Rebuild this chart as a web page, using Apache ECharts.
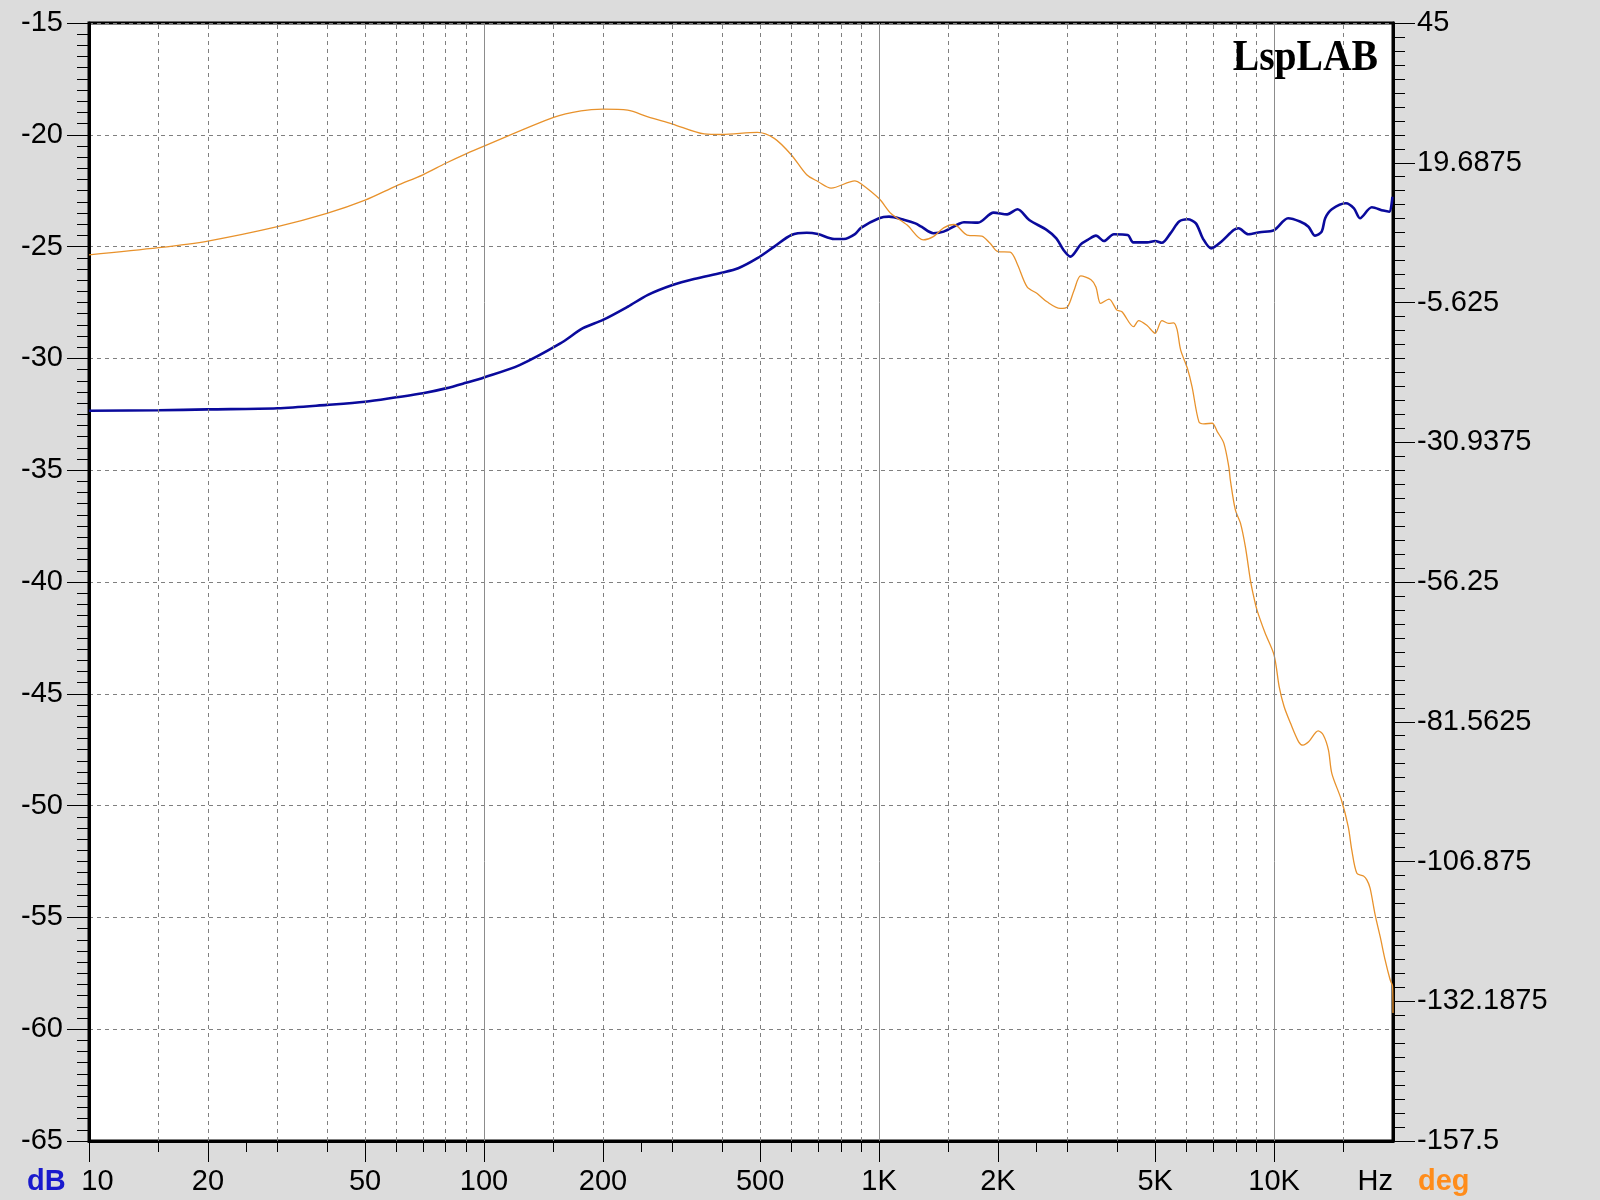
<!DOCTYPE html>
<html>
<head>
<meta charset="utf-8">
<script src="https://cdn.jsdelivr.net/npm/echarts@6/dist/echarts.min.js"></script>
<style>
html,body{margin:0;padding:0;background:#dcdcdc;}
#chart{width:1600px;height:1200px;}
</style>
</head>
<body>
<div id="chart"></div>
<script>
// ---- data ----
const magFreq = [10,15,20,30,40,50,60,70,80,90,100,123,156,178,200,231,260,300,340,400,440,492,543,600,656,700,770,815,869,900,1000,1060,1160,1236,1280,1372,1457,1590,1640,1780,1950,2110,2240,2400,2660,2810,2930,3050,3240,3375,3540,3710,3930,4260,4400,4770,5000,5200,5470,5750,6040,6340,6600,6930,7350,7900,8130,8600,9200,10000,10850,11630,12220,12700,13200,13470,14000,15200,15930,16500,17680,18900,19570,19930];
const magDb = [-32.34,-32.32,-32.28,-32.23,-32.08,-31.94,-31.74,-31.56,-31.34,-31.09,-30.85,-30.30,-29.33,-28.65,-28.28,-27.69,-27.16,-26.72,-26.45,-26.17,-25.97,-25.52,-25.0,-24.48,-24.38,-24.44,-24.66,-24.66,-24.44,-24.16,-23.73,-23.66,-23.81,-23.96,-24.11,-24.40,-24.33,-23.99,-23.91,-23.93,-23.48,-23.56,-23.33,-23.81,-24.26,-24.63,-25.15,-25.45,-24.90,-24.70,-24.51,-24.75,-24.45,-24.48,-24.81,-24.81,-24.75,-24.83,-24.40,-23.88,-23.78,-23.96,-24.63,-25.08,-24.78,-24.26,-24.18,-24.45,-24.36,-24.26,-23.73,-23.88,-24.11,-24.51,-24.33,-23.73,-23.33,-23.06,-23.29,-23.73,-23.24,-23.39,-23.44,-22.77];

const phaseFreq = [10,15,20,30,40,50,60,70,80,90,100,150,176,200,231,260,300,361,400,492,543,600,656,700,756,869,900,1000,1072,1178,1293,1372,1457,1547,1671,1820,1910,2000,2148,2234,2370,2513,2662,2873,3000,3117,3240,3440,3540,3640,3820,4000,4120,4410,4540,4770,5000,5200,5410,5570,5680,5800,6030,6200,6450,6640,6970,7180,7460,7680,7750,7980,8220,8460,8710,8880,9050,9490,10000,10300,10600,11000,11540,11830,12230,12930,13330,13730,14000,14800,15410,15730,16200,16840,17170,17500,18030,18560,19100,19670,19950,20000];
const phaseDeg = [3.0,4.3,5.5,8.1,10.5,12.9,15.5,17.5,19.6,21.3,22.7,27.9,29.1,29.4,29.2,28.0,26.7,24.9,24.8,25.2,24.1,21.1,17.5,16.3,15.1,16.4,15.9,13.2,10.5,8.4,5.7,6.3,7.9,8.5,6.6,6.4,5.1,3.6,3.5,1.5,-2.8,-4.0,-5.5,-6.7,-6.4,-3.4,-0.8,-1.5,-2.8,-5.8,-5.0,-7.0,-7.3,-10.0,-8.9,-9.8,-11.2,-8.9,-9.4,-9.3,-10.5,-14.2,-17.5,-20.9,-27.2,-27.6,-27.5,-29.0,-31.1,-35.4,-37.8,-43.2,-45.6,-49.9,-55.9,-58.9,-61.3,-65.5,-69.5,-75.2,-78.8,-81.8,-85.2,-85.8,-85.2,-83.2,-84.0,-86.7,-90.9,-95.7,-100.6,-104.8,-109.0,-109.5,-110.2,-111.7,-116.6,-120.5,-124.7,-128.3,-129.5,-134.3];

// ---- axis ticks / labels ----
const xLabelValues = [10,20,50,100,200,500,1000,2000,5000,10000,20000];
const xLabelTexts  = ['10','20','50','100','200','500','1K','2K','5K','10K','Hz'];
const xMajorTicks  = [10,20,50,100,200,500,1000,2000,5000,10000];
const xMinorTicks  = [15,25,30,40,60,70,80,90,150,250,300,400,600,700,800,900,1500,2500,3000,4000,6000,7000,8000,9000,15000];
const xGridDashed  = [15,20,30,40,50,60,70,80,90,150,200,300,400,500,600,700,800,900,1500,2000,3000,4000,5000,6000,7000,8000,9000,15000];
const xGridSolid   = [100,1000,10000];

const chart = echarts.init(document.getElementById('chart'), null, {renderer:'canvas'});
const FONT = '"Liberation Sans", Arial, sans-serif';
const labelMap = {};
xLabelValues.forEach((v,i)=>{ labelMap[v] = xLabelTexts[i]; });

const option = {
  animation:false,
  backgroundColor:'#dcdcdc',
  textStyle:{fontFamily:FONT},
  grid:{left:89, top:23, right:207, bottom:59, show:true, backgroundColor:'#ffffff', borderColor:'#000', borderWidth:3},
  xAxis:[
    {type:'log', logBase:10, min:10, max:20000, position:'bottom',
     axisLine:{show:true, onZero:false, lineStyle:{color:'#000', width:3}},
     axisTick:{show:true, customValues:xMajorTicks, length:21, inside:false, lineStyle:{color:'#000', width:1}},
     axisLabel:{show:true, customValues:xLabelValues, showMaxLabel:true, showMinLabel:true, alignMaxLabel:'right',
       formatter:(v)=>{ const k=Math.round(v); const t=labelMap[k]!==undefined?labelMap[k]:''; return k===xLabelValues[0]?'{first|'+t+'}':t; },
       rich:{first:{fontSize:29, color:'#000', fontFamily:FONT, padding:[0,0,0,17]}},
       fontSize:29, color:'#000', margin:26, fontFamily:FONT},
     splitLine:{show:false}, minorTick:{show:false}},
    {type:'log', logBase:10, min:10, max:20000, position:'bottom',
     axisLine:{show:false, onZero:false},
     axisTick:{show:true, customValues:xMinorTicks, length:11, inside:false, lineStyle:{color:'#000', width:1}},
     axisLabel:{show:false}, splitLine:{show:false}, minorTick:{show:false}}
  ],
  yAxis:[
    {type:'value', min:-65, max:-15, interval:5, position:'left',
     axisLine:{show:true, onZero:false, lineStyle:{color:'#000', width:3}},
     axisTick:{show:true, length:22, lineStyle:{color:'#000', width:1}},
     minorTick:{show:true, splitNumber:10, length:12, lineStyle:{color:'#000', width:1}},
     axisLabel:{fontSize:29, color:'#000', margin:26, fontFamily:FONT, showMinLabel:true, showMaxLabel:true},
     splitLine:{show:true, lineStyle:{color:'#808080', width:1, type:[4,4]}}},
    {type:'value', min:-157.5, max:45, interval:25.3125, position:'right',
     axisLine:{show:true, onZero:false, lineStyle:{color:'#000', width:3}},
     axisTick:{show:true, length:22, lineStyle:{color:'#000', width:1}},
     minorTick:{show:true, splitNumber:10, length:12, lineStyle:{color:'#000', width:1}},
     axisLabel:{fontSize:29, color:'#000', margin:24, fontFamily:FONT, showMinLabel:true, showMaxLabel:true,
       formatter:(v)=>String(parseFloat(Number(v).toFixed(4)))},
     splitLine:{show:false}}
  ],
  series:[
    {type:'line', name:'grid', xAxisIndex:0, yAxisIndex:0, data:[[10,-65]], showSymbol:false, symbol:'none', z:1,
     lineStyle:{width:0}, silent:true,
     markLine:{silent:true, symbol:['none','none'], label:{show:false}, animation:false,
       lineStyle:{color:'#808080', width:1},
       data: xGridDashed.map(v=>({xAxis:v, lineStyle:{type:[4,4], color:'#808080', width:1}}))
         .concat(xGridSolid.map(v=>({xAxis:v, lineStyle:{type:'solid', color:'#8c8c8c', width:1}})))}},
    {type:'line', name:'dB', xAxisIndex:0, yAxisIndex:0, z:3, showSymbol:false, symbol:'none', smooth:0.3,
     data: magFreq.map((f,i)=>[f, magDb[i]]),
     lineStyle:{color:'#0a0a9c', width:2.6}},
    {type:'line', name:'deg', xAxisIndex:0, yAxisIndex:1, z:4, showSymbol:false, symbol:'none', smooth:0.3,
     data: phaseFreq.map((f,i)=>[f, phaseDeg[i]]),
     lineStyle:{color:'#e8922c', width:1.3}}
  ],
  graphic:[
    {type:'text', x:27, y:1182, style:{text:'dB', fill:'#1a1acd', font:'bold 29px "Liberation Sans", Arial', verticalAlign:'middle', align:'left'}},
    {type:'text', x:1418, y:1182, style:{text:'deg', fill:'#ff8c1a', font:'bold 29px "Liberation Sans", Arial', verticalAlign:'middle', align:'left'}},
    {type:'text', x:1378, y:59, scaleX:0.9, z:100,
     style:{text:'LspLAB', fill:'#000', font:'bold 44px "Liberation Serif", "Times New Roman", serif', align:'right', verticalAlign:'middle',
       shadowColor:'rgba(100,100,100,0.8)', shadowOffsetX:3, shadowOffsetY:3, shadowBlur:2}}
  ]
};
chart.setOption(option);
</script>
</body>
</html>
